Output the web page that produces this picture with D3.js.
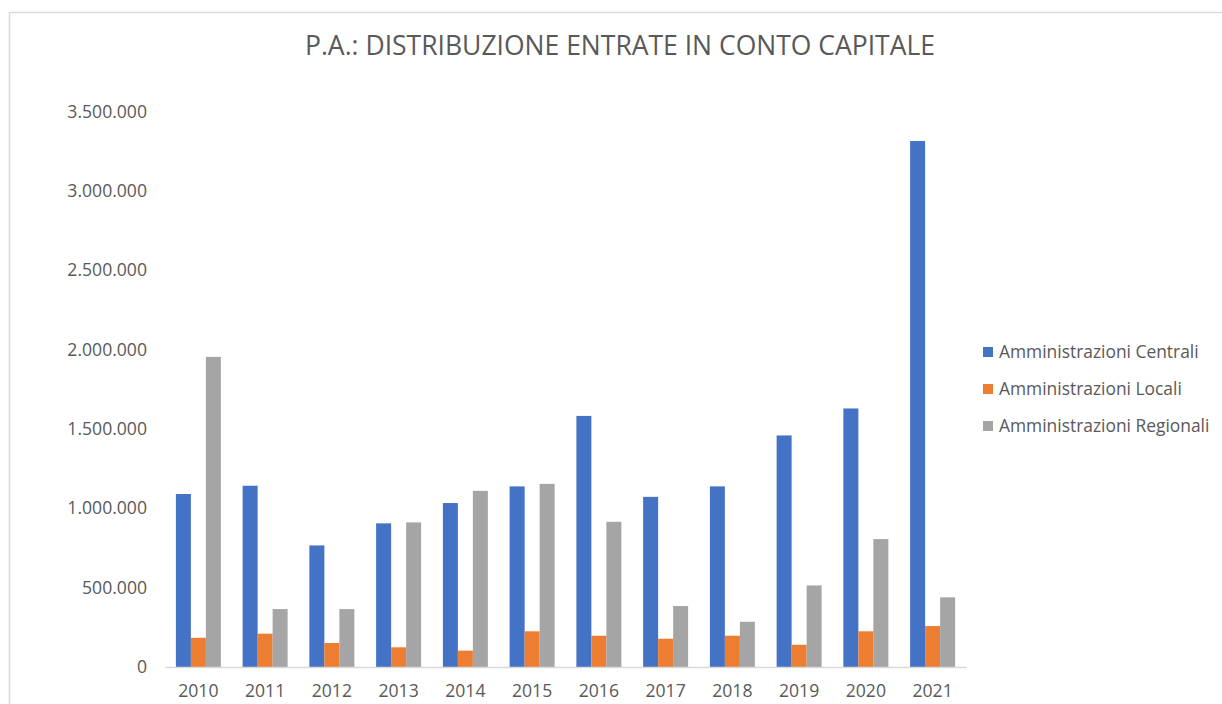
<!DOCTYPE html>
<html>
<head>
<meta charset="utf-8">
<title>P.A.: distribuzione entrate in conto capitale</title>
<script src="https://cdn.jsdelivr.net/npm/d3@7"></script>
<style>
  body { margin: 0; background: #fff; }
  text { font-family: "Open Sans", "Noto Sans", sans-serif; fill: #595959; }
</style>
</head>
<body>
<svg id="chart"></svg>
<script>
// data
var years = ['2010','2011','2012','2013','2014','2015','2016','2017','2018','2019','2020','2021'];
var seriesNames = ['Amministrazioni Centrali', 'Amministrazioni Locali', 'Amministrazioni Regionali'];
var centrali  = [1090000, 1142000, 766000, 905000, 1033000, 1138000, 1582000, 1072000, 1138000, 1459000, 1629000, 3314000];
var locali    = [184000, 210000, 151000, 124000, 103000, 225000, 197000, 178000, 197000, 140000, 225000, 258000];
var regionali = [1954000, 365000, 365000, 911000, 1110000, 1154000, 915000, 384000, 285000, 514000, 806000, 439000];
var yTicks = [0, 500000, 1000000, 1500000, 2000000, 2500000, 3000000, 3500000];

var colors = ['#4472C4', '#ED7D31', '#A5A5A5'];
var W = 1222, H = 704;
var margin = {top: 111.5, right: 256, bottom: 37, left: 165};
var width = W - margin.left - margin.right,
    height = H - margin.top - margin.bottom;

var svg = d3.select('#chart').attr('width', W).attr('height', H);

// chart frame (only left and top edges visible)
svg.append('rect')
  .attr('x', 9.5).attr('y', 12.5)
  .attr('width', W + 10).attr('height', H + 10)
  .attr('fill', 'none').attr('stroke', '#d9d9d9').attr('stroke-width', 1.5);

svg.append('text')
  .attr('x', 620).attr('y', 46)
  .attr('dy', '0.35em')
  .attr('text-anchor', 'middle')
  .style('font-size', '26.5px')
  .text('P.A.: DISTRIBUZIONE ENTRATE IN CONTO CAPITALE');

var g = svg.append('g').attr('transform', 'translate(' + margin.left + ',' + margin.top + ')');

var x0 = d3.scaleBand().domain(years).range([0, width]).paddingInner(0.326).paddingOuter(0.163);
var x1 = d3.scaleBand().domain(seriesNames).range([0, x0.bandwidth()]);
var y = d3.scaleLinear().domain([0, 3500000]).range([height, 0]);

var fmt = function(d) { return d3.format(',')(d).replace(/,/g, '.'); };

// y axis labels only
var yAxis = g.append('g')
  .attr('transform', 'translate(-18,0)')
  .call(d3.axisLeft(y).tickValues(yTicks).tickSize(0).tickFormat(fmt));
yAxis.select('.domain').remove();
yAxis.selectAll('text').attr('x', 0).style('font-size', '17.6px').style('font-family', '"Open Sans", sans-serif').attr('fill', '#595959');

var table = years.map(function(yr, i) {
  return {year: yr, values: [centrali[i], locali[i], regionali[i]]};
});

var groups = g.selectAll('.grp').data(table).enter().append('g')
  .attr('class', 'grp')
  .attr('transform', function(d) { return 'translate(' + x0(d.year) + ',0)'; });

groups.selectAll('rect').data(function(d) {
    return d.values.map(function(v, k) { return {name: seriesNames[k], value: v, k: k}; });
  }).enter().append('rect')
  .attr('x', function(d) { return x1(d.name); })
  .attr('y', function(d) { return y(d.value); })
  .attr('width', x1.bandwidth())
  .attr('height', function(d) { return height - y(d.value); })
  .attr('fill', function(d) { return colors[d.k]; });

var xAxis = g.append('g')
  .attr('transform', 'translate(0,' + height + ')')
  .call(d3.axisBottom(x0).tickSize(0).tickPadding(18));
xAxis.select('.domain').attr('stroke', '#d9d9d9').attr('stroke-width', 1.5);
xAxis.selectAll('text').style('font-size', '17.6px').style('font-family', '"Open Sans", sans-serif').attr('fill', '#595959');

// legend
var legend = svg.append('g').attr('transform', 'translate(983,352)');
seriesNames.forEach(function(name, i) {
  var row = legend.append('g').attr('transform', 'translate(0,' + (i * 37) + ')');
  row.append('rect').attr('x', 0).attr('y', -5).attr('width', 10).attr('height', 10).attr('fill', colors[i]);
  row.append('text').attr('x', 16).attr('dy', '0.35em').style('font-size', '17.4px').text(name);
});
</script>
</body>
</html>
